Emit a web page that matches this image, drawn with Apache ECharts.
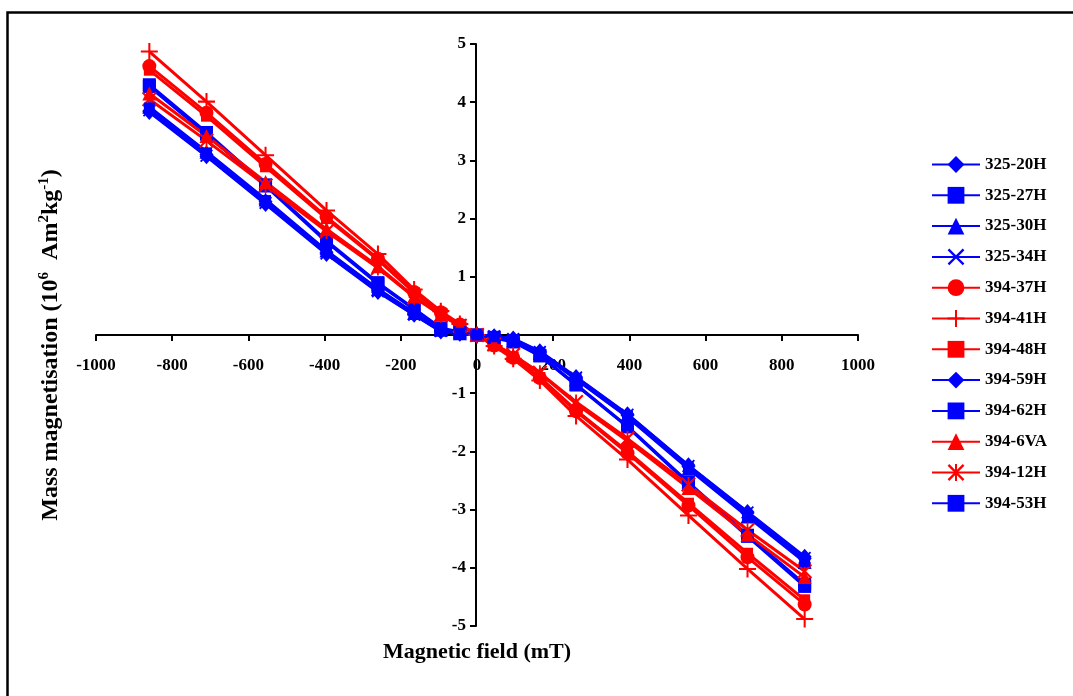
<!DOCTYPE html>
<html>
<head>
<meta charset="utf-8">
<script src="https://cdn.jsdelivr.net/npm/echarts@6/dist/echarts.min.js"></script>
<style>
  html, body { margin: 0; padding: 0; background: #fff; }
  #chart { width: 1073px; height: 696px; }
</style>
</head>
<body>
<div id="chart"></div>
<script>
// magnetic field steps (mT)
var fieldMT = [-860, -710, -555, -395, -260, -165, -95, -45, 0, 45, 95, 165, 260, 395, 555, 710, 860]

var names = ['325-20H', '325-27H', '325-30H', '325-34H', '394-37H', '394-41H',
             '394-48H', '394-59H', '394-62H', '394-6VA', '394-12H', '394-53H']

// mass magnetisation (10^-6 Am2/kg)
var m325_20H = [3.85, 3.10, 2.29, 1.42, 0.77, 0.37, 0.08, 0.03, 0, -0.03, -0.08, -0.30, -0.74, -1.38, -2.26, -3.06, -3.84]
var m325_27H = [4.30, 3.48, 2.58, 1.62, 0.90, 0.45, 0.12, 0.05, 0, -0.05, -0.12, -0.36, -0.86, -1.58, -2.55, -3.46, -4.32]
var m325_30H = [3.92, 3.15, 2.33, 1.45, 0.79, 0.38, 0.09, 0.03, 0, -0.03, -0.09, -0.31, -0.76, -1.41, -2.30, -3.12, -3.90]
var m325_34H = [3.86, 3.08, 2.27, 1.40, 0.75, 0.35, 0.07, 0.02, 0, -0.02, -0.07, -0.29, -0.73, -1.37, -2.25, -3.05, -3.83]
var m394_37H = [4.62, 3.82, 2.94, 2.03, 1.31, 0.74, 0.39, 0.18, 0, -0.18, -0.39, -0.74, -1.31, -2.03, -2.93, -3.82, -4.63]
var m394_41H = [4.87, 4.01, 3.09, 2.14, 1.39, 0.78, 0.41, 0.19, 0, -0.19, -0.41, -0.78, -1.39, -2.14, -3.10, -4.02, -4.88]
var m394_48H = [4.55, 3.76, 2.89, 2.00, 1.29, 0.73, 0.38, 0.18, 0, -0.18, -0.38, -0.73, -1.29, -2.00, -2.89, -3.75, -4.55]
var m394_59H = [3.83, 3.07, 2.25, 1.39, 0.74, 0.35, 0.06, 0.02, 0, -0.02, -0.06, -0.28, -0.72, -1.36, -2.24, -3.04, -3.81]
var m394_62H = [4.27, 3.45, 2.56, 1.60, 0.88, 0.44, 0.11, 0.04, 0, -0.04, -0.11, -0.35, -0.85, -1.57, -2.53, -3.44, -4.28]
var m394_6VA = [4.15, 3.42, 2.63, 1.82, 1.18, 0.66, 0.35, 0.16, 0, -0.16, -0.35, -0.66, -1.18, -1.82, -2.63, -3.43, -4.16]
var m394_12H = [4.05, 3.34, 2.57, 1.78, 1.15, 0.65, 0.34, 0.16, 0, -0.16, -0.34, -0.65, -1.15, -1.78, -2.57, -3.35, -4.06]
var m394_53H = [3.90, 3.13, 2.31, 1.44, 0.78, 0.37, 0.08, 0.03, 0, -0.03, -0.08, -0.30, -0.75, -1.40, -2.28, -3.10, -3.89]

var BLUE = '#0000ff'
var RED = '#ff0000'
var FONT = '"Liberation Serif", "Times New Roman", serif'

var symX = 'path://M0,1 L1,0 L5,4 L9,0 L10,1 L6,5 L10,9 L9,10 L5,6 L1,10 L0,9 L4,5 Z'
var symPlus = 'path://M4.4,0 H5.6 V4.4 H10 V5.6 H5.6 V10 H4.4 V5.6 H0 V4.4 H4.4 Z'
var symStar = 'path://M4.4,0 H5.6 V10 H4.4 Z M0,1 L1,0 L10,9 L9,10 Z M9,0 L10,1 L1,10 L0,9 Z'
var symDash = 'path://M0,3.5 H10 V6.5 H0 Z'

var allData = [m325_20H, m325_27H, m325_30H, m325_34H, m394_37H, m394_41H,
               m394_48H, m394_59H, m394_62H, m394_6VA, m394_12H, m394_53H]
var colors = [BLUE, BLUE, BLUE, BLUE, RED, RED, RED, BLUE, BLUE, RED, RED, BLUE]
var symbols = ['diamond', 'rect', 'triangle', symX, 'circle', symPlus,
               symDash, 'diamond', 'rect', 'triangle', symStar, symDash]
var sizes = [[14, 16], 13, 14, 13, 14, 17, 11, [14, 16], 13, 14, 15, 11]

var series = names.map(function (n, i) {
    return {
        name: n,
        type: 'line',
        data: fieldMT.map(function (x, j) { return [x, allData[i][j]] }),
        symbol: symbols[i],
        symbolSize: sizes[i],
        symbolKeepAspect: false,
        showAllSymbol: true,
        lineStyle: { color: colors[i], width: 3 },
        itemStyle: { color: colors[i] }
    }
})

var chart = echarts.init(document.getElementById('chart'))
chart.setOption({
    animation: false,
    backgroundColor: '#fff',
    grid: { left: 96, right: 215, top: 44, bottom: 70, containLabel: false, outerBoundsMode: 'none' },
    legend: {
        orient: 'vertical',
        left: 926,
        top: 151,
        itemWidth: 48,
        itemHeight: 21,
        itemGap: 13.8,
        textStyle: { fontFamily: FONT, fontWeight: 'bold', fontSize: 17, color: '#000' },
        data: names
    },
    xAxis: {
        type: 'value',
        min: -1000, max: 1000, interval: 200,
        offset: -291,
        name: 'Magnetic field (mT)',
        nameLocation: 'middle',
        nameGap: 306,
        nameTextStyle: { fontFamily: FONT, fontWeight: 'bold', fontSize: 22, color: '#000' },
        axisLine: { onZero: false, lineStyle: { color: '#000', width: 2 } },
        axisTick: { show: true, length: 6, lineStyle: { color: '#000', width: 2 } },
        axisLabel: {
            margin: 22, fontFamily: FONT, fontWeight: 'bold', fontSize: 17, color: '#000',
            formatter: function (v) { return String(v) }
        },
        splitLine: { show: false }
    },
    yAxis: {
        type: 'value',
        min: -5, max: 5, interval: 1,
        offset: -380,
        name: 'Mass magnetisation (10{s|6}  Am{s|2}kg{s|-1})',
        nameLocation: 'middle',
        nameGap: 412,
        nameTextStyle: {
            fontFamily: FONT, fontWeight: 'bold', fontSize: 24, color: '#000',
            padding: [0, 20, 0, 0],
            rich: {
                s: { fontFamily: FONT, fontWeight: 'bold', fontSize: 15, color: '#000', verticalAlign: 'top', padding: [0, 0, 12, 0] }
            }
        },
        axisLine: { onZero: false, lineStyle: { color: '#000', width: 2 } },
        axisTick: { show: true, length: 6, lineStyle: { color: '#000', width: 2 } },
        axisLabel: {
            margin: 10, fontFamily: FONT, fontWeight: 'bold', fontSize: 17, color: '#000',
            formatter: function (v) { return String(v) }
        },
        splitLine: { show: false }
    },
    graphic: [{
        type: 'rect',
        left: 5, top: 10,
        shape: { width: 1070, height: 692 },
        style: { fill: 'none', stroke: '#000', lineWidth: 2.5 },
        silent: true
    }],
    series: series
})
</script>
</body>
</html>
